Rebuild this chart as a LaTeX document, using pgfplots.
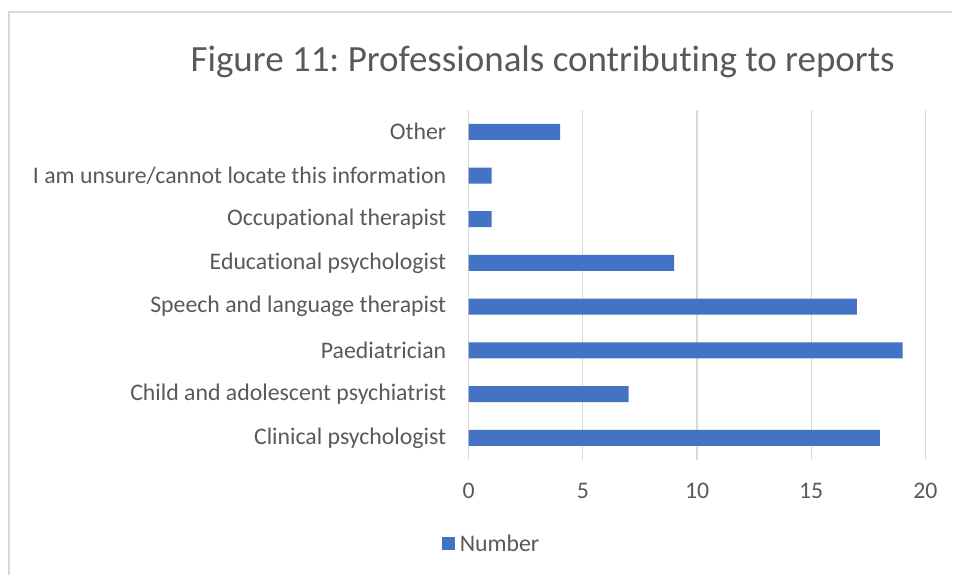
\documentclass[border=0pt]{standalone}
\usepackage{fontspec}
\setmainfont{Carlito}[Ligatures={NoCommon}]
\usepackage{pgfplots}
\pgfplotsset{compat=1.18}
\definecolor{barblue}{HTML}{4472C4}
\definecolor{gridgray}{HTML}{D9D9D9}
\definecolor{txtgray}{HTML}{595959}
\frenchspacing
\begin{document}
\begin{tikzpicture}
\path (0,0) rectangle (953bp,575bp);
\draw[gridgray, line width=1.2bp] (9bp,0) -- (9bp,563bp) -- (953bp,563bp);
\begin{axis}[
  at={(469bp,115bp)}, anchor=south west,
  scale only axis, width=457bp, height=350bp,
  xbar, bar width=16bp,
  xmin=0, xmax=20, ymin=-0.5, ymax=7.5,
  xtick={0,5,10,15,20},
  ytick={0,1,2,3,4,5,6,7},
  yticklabels={Clinical psychologist, Child and adolescent psychiatrist, Paediatrician, Speech and language therapist, Educational psychologist, Occupational therapist, I am unsure/cannot locate this information, Other},
  /pgf/number format/assume math mode=true,
  major tick length=0pt,
  axis line style={draw=none},
  xmajorgrids, grid style={gridgray, line width=1.2bp},
  tick label style={text=txtgray, font=\fontsize{23.8bp}{28bp}\selectfont},
  xticklabel style={yshift=-20bp},
  yticklabel style={xshift=-19bp},
  legend style={at={(0.05,-0.24)}, anchor=center, draw=none, font=\fontsize{23.8bp}{28bp}\selectfont, text=txtgray, /tikz/every even column/.append style={column sep=0bp}},
  legend image code/.code={\fill[barblue] (0bp,-6.5bp) rectangle (13bp,6.5bp);},
]
\addplot[fill=barblue, draw=none] coordinates {(18,0) (7,1) (19,2) (17,3) (9,4) (1,5) (1,6) (4,7)};
\addlegendentry{\hspace{3bp}Number}
\end{axis}
\node[text=txtgray, font=\fontsize{37bp}{44bp}\selectfont] at (543bp,513bp) {Figure 11: Professionals contributing to reports};
\end{tikzpicture}
\end{document}
